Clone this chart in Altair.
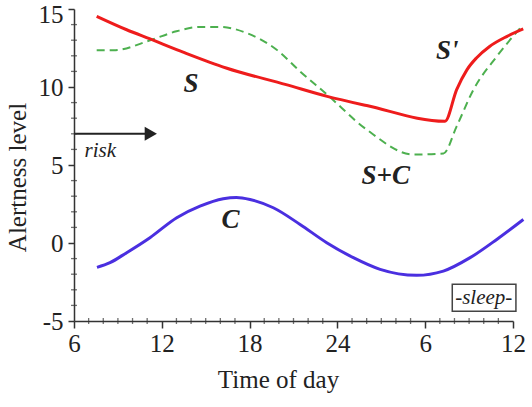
import altair as alt
import pandas as pd

# Hours are counted from midnight of the first day; values past 24 are next-day times.
s_hours = [7.55, 9.6, 11.2, 13.5, 16.4, 20.5, 23.3, 26.0, 31.35, 32.15, 32.85, 33.5, 34.4, 35.6, 36.7]
s_level = [14.53, 13.67, 13.08, 12.22, 11.22, 10.15, 9.4, 8.81, 7.8, 9.83, 11.1, 11.86, 12.6, 13.25, 13.72]

sc_hours = [7.55, 8.7, 11.2, 13.0, 14.6, 16.0, 17.8, 19.85, 21.45, 23.3, 26.0, 29.2, 31.25, 32.15, 33.3, 34.9, 36.7]
sc_level = [12.35, 12.35, 12.99, 13.57, 13.85, 13.85, 13.46, 12.39, 11.0, 9.51, 7.27, 5.67, 5.74, 7.48, 9.83, 11.97, 14.0]

c_hours = [7.57, 8.46, 9.6, 11.19, 13.02, 14.61, 16.2, 17.1, 18.03, 19.62, 21.45, 23.27, 25.09, 26.92, 29.42, 31.24, 33.07, 34.89, 36.71]
c_level = [-1.56, -1.26, -0.62, 0.34, 1.62, 2.36, 2.84, 2.92, 2.79, 2.26, 1.19, 0.02, -0.94, -1.69, -2.07, -1.8, -0.94, 0.23, 1.51]

x_major = [6, 12, 18, 24, 30, 36]
x_minor = [h for h in range(6, 37) if h % 6]
y_major = [-5, 0, 5, 10, 15]
y_minor = [v for v in range(-5, 16) if v % 5]

label_text = ["S", "S'", "S+C", "C"]
label_hour = [14.0, 31.5, 27.3, 16.7]
label_level = [10.2, 12.3, 4.3, 1.5]

risk_level = 7.0
risk_start, risk_end = 6.0, 11.0
risk_head_hour = 11.25
risk_label = ("risk", 7.8, 5.9)

sleep_box = dict(x=31.85, x2=36.2, y=-2.65, y2=-4.38)
sleep_label = ("-sleep-", 34.0, -3.5)

FONT = "Liberation Serif"
INK = "#222222"
AXIS_INK = "#333333"

x_scale = alt.Scale(domain=[6, 36], nice=False, zero=False)
y_scale = alt.Scale(domain=[-5, 15], nice=False, zero=False)

x_axis = alt.Axis(
    orient="bottom", values=x_major,
    labelExpr="datum.value > 24 ? datum.value - 24 : datum.value",
    tickSize=7, title="Time of day", titleX=204, titlePadding=11,
    labelPadding=3, grid=False, labelOverlap=False, labelFlush=False,
)
y_axis = alt.Axis(
    orient="left", values=y_major, tickSize=6,
    labelExpr="datum.value",
    title="Alertness level", titleY=168, titlePadding=8,
    labelPadding=5, grid=False, labelOverlap=False, labelFlush=False,
    labelOffset={"condition": {"test": "datum.value == 15", "value": 5}, "value": 0},
)

X = alt.X("hour:Q", scale=x_scale, axis=x_axis)
Y = alt.Y("level:Q", scale=y_scale, axis=y_axis)


def line(hours, levels, color, width, dash=None):
    df = pd.DataFrame({"hour": hours, "level": levels})
    kw = dict(color=color, strokeWidth=width, interpolate="monotone")
    if dash:
        kw["strokeDash"] = dash
    return alt.Chart(df).mark_line(**kw).encode(x=X, y=Y)


s_line = line(s_hours, s_level, "#ee1c1c", 3)
sc_line = line(sc_hours, sc_level, "#4db04f", 2, [8, 5])
c_line = line(c_hours, c_level, "#4a2fe0", 3)

labels_df = pd.DataFrame({"t": label_text, "hour": label_hour, "level": label_level})
labels = alt.Chart(labels_df).mark_text(
    font=FONT, fontSize=27, fontWeight="bold", fontStyle="italic", color=INK, baseline="middle"
).encode(x=X, y=Y, text="t:N")

risk_df = pd.DataFrame({"hour": [risk_start], "x2": [risk_end], "level": [risk_level]})
risk_line = alt.Chart(risk_df).mark_rule(color=INK, strokeWidth=2).encode(x=X, x2="x2:Q", y=Y)
head_df = pd.DataFrame({"hour": [risk_head_hour], "level": [risk_level]})
risk_head = alt.Chart(head_df).mark_point(
    shape="triangle-right", filled=True, size=200, color=INK, opacity=1
).encode(x=X, y=Y)

notes_df = pd.DataFrame({
    "t": [risk_label[0], sleep_label[0]],
    "hour": [risk_label[1], sleep_label[1]],
    "level": [risk_label[2], sleep_label[2]],
})
notes = alt.Chart(notes_df).mark_text(
    font=FONT, fontSize=21, fontStyle="italic", color=INK, baseline="middle"
).encode(x=X, y=Y, text="t:N")

box_df = pd.DataFrame({"hour": [sleep_box["x"]], "x2": [sleep_box["x2"]],
                       "level": [sleep_box["y"]], "y2": [sleep_box["y2"]]})
box = alt.Chart(box_df).mark_rect(fill="white", stroke="#444444", strokeWidth=1.5).encode(
    x=X, x2="x2:Q", y=Y, y2="y2:Q"
)

# Small hourly / unit ticks that straddle the axis lines
x_minor_ticks = alt.Chart(pd.DataFrame({"hour": x_minor})).mark_tick(
    orient="vertical", size=6, thickness=1.3, color=AXIS_INK
).encode(x=X, y=alt.datum(-5))
y_minor_ticks = alt.Chart(pd.DataFrame({"level": y_minor})).mark_tick(
    orient="horizontal", size=6, thickness=1.3, color=AXIS_INK
).encode(y=Y, x=alt.datum(6))

chart = alt.layer(
    sc_line, s_line, c_line, labels, risk_line, risk_head, box, notes,
    x_minor_ticks, y_minor_ticks,
).properties(
    width=439, height=312,
    padding={"left": 74, "top": 9, "right": 19, "bottom": 86},
    autosize=alt.AutoSizeParams(type="none"),
    background="white",
).configure_view(stroke=None).configure_axis(
    labelFont=FONT, titleFont=FONT, labelFontSize=25, titleFontSize=25,
    labelColor=INK, titleColor=INK, titleFontWeight="normal",
    domainColor=AXIS_INK, tickColor=AXIS_INK, domainWidth=1.5, tickWidth=1.5,
)

chart.save("out.html", embed_options={"renderer": "svg", "actions": False})
